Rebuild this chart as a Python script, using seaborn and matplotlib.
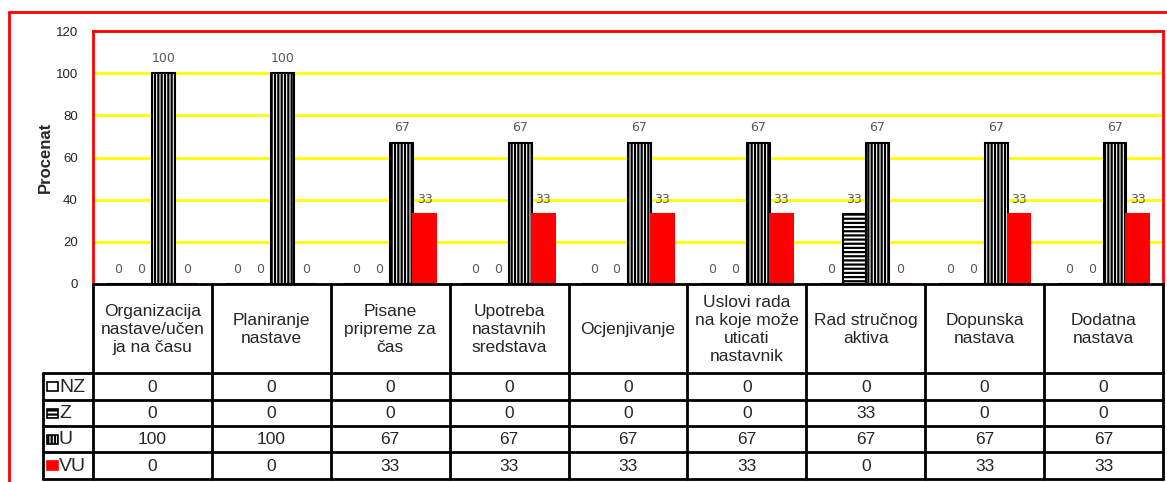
import numpy as np
import pandas as pd
import matplotlib.pyplot as plt
import seaborn as sns
from matplotlib.patches import Rectangle

# ------------------------------
# data
# ------------------------------
categories = [
    "Organizacija\nnastave/učen\nja na času",
    "Planiranje\nnastave",
    "Pisane\npripreme za\nčas",
    "Upotreba\nnastavnih\nsredstava",
    "Ocjenjivanje",
    "Uslovi rada\nna koje može\nuticati\nnastavnik",
    "Rad stručnog\naktiva",
    "Dopunska\nnastava",
    "Dodatna\nnastava",
]
series = ["NZ", "Z", "U", "VU"]
nz = [0, 0, 0, 0, 0, 0, 0, 0, 0]
z = [0, 0, 0, 0, 0, 0, 33, 0, 0]
u = [100, 100, 67, 67, 67, 67, 67, 67, 67]
vu = [0, 0, 33, 33, 33, 33, 0, 33, 33]
y_ticks = [0, 20, 40, 60, 80, 100, 120]

values = {"NZ": nz, "Z": z, "U": u, "VU": vu}
df = pd.DataFrame({
    "kategorija": categories * 4,
    "serija": np.repeat(series, len(categories)),
    "vrijednost": nz + z + u + vu,
})

sns.set_style("white")
plt.rcParams["font.family"] = ["Liberation Sans", "DejaVu Sans"]
plt.rcParams["hatch.linewidth"] = 1.6

W, H = 1167, 482
fig = plt.figure(figsize=(W / 100, H / 100), dpi=100)

# plot area in pixel coords
px_left, px_right, px_top, px_bottom = 93, 1163, 31, 284
ax = fig.add_axes([px_left / W, 1 - px_bottom / H,
                   (px_right - px_left) / W, (px_bottom - px_top) / H])

fills = {"NZ": "white", "Z": "white", "U": "white", "VU": "#FF0000"}
hatches = {"NZ": "", "Z": "----", "U": "|||||", "VU": ""}
edges = {"NZ": "black", "Z": "black", "U": "black", "VU": "#FF0000"}

sns.barplot(data=df, x="kategorija", y="vrijednost", hue="serija",
            hue_order=series, order=categories, palette=fills,
            width=0.77, saturation=1, legend=False, ax=ax)

for cont, s in zip(ax.containers, series):
    for bar in cont:
        bar.set_hatch(hatches[s])
        bar.set_edgecolor(edges[s])
        bar.set_linewidth(1.5)
    ax.bar_label(cont, labels=[str(v) for v in values[s]], padding=6,
                 fontsize=9, color="#595959", family="DejaVu Sans")

ax.set_ylim(0, 120)
ax.set_xlim(-0.5, len(categories) - 0.5)
ax.set_yticks(y_ticks)
ax.set_yticklabels([str(t) for t in y_ticks], fontsize=9.5)
ax.tick_params(axis="y", length=0, pad=11)
ax.set_xticks([])
ax.set_xlabel("")
ax.set_ylabel("Procenat", fontsize=12, fontweight="bold", labelpad=2)
ax.yaxis.grid(True, color="#FFFF00", linewidth=2)
ax.set_axisbelow(True)
for side in ["top", "left", "right"]:
    ax.spines[side].set_color("#FF0000")
    ax.spines[side].set_linewidth(2)
ax.spines["bottom"].set_color("black")
ax.spines["bottom"].set_linewidth(2)

# ------------------------------
# data table + outer border (pixel overlay)
# ------------------------------
tab = fig.add_axes([0, 0, 1, 1], zorder=5)
tab.set_xlim(0, W)
tab.set_ylim(H, 0)
tab.axis("off")

# outer red frame of the chart
tab.plot([9, W + 5], [12, 12], color="#FF0000", lw=2)
tab.plot([9, 9], [12, H + 5], color="#FF0000", lw=2)

col_w = (px_right - px_left) / len(categories)
x_edges = [px_left + i * col_w for i in range(len(categories) + 1)]
row_edges = [px_bottom, 373, 400, 426, 452, 479]
leg_left = 43

lw = 2
for x in x_edges:
    tab.plot([x, x], [px_bottom, row_edges[-1]], color="black", lw=lw)
tab.plot([leg_left, leg_left], [row_edges[1], row_edges[-1]], color="black", lw=lw)
for y in row_edges[1:]:
    tab.plot([leg_left, px_right], [y, y], color="black", lw=lw)

for i, cat in enumerate(categories):
    xc = (x_edges[i] + x_edges[i + 1]) / 2
    tab.text(xc, (row_edges[0] + row_edges[1]) / 2 + 1, cat, ha="center",
             va="center", fontsize=12.5, linespacing=1.25)
    for r, s in enumerate(series):
        yc = (row_edges[r + 1] + row_edges[r + 2]) / 2
        tab.text(xc, yc + 1, str(values[s][i]), ha="center", va="center",
                 fontsize=12.5)

for r, s in enumerate(series):
    yc = (row_edges[r + 1] + row_edges[r + 2]) / 2
    tab.add_patch(Rectangle((47, yc - 4.5), 11, 9, facecolor=fills[s],
                            edgecolor=edges[s], hatch=hatches[s], lw=1.2))
    tab.text(59, yc + 1, s, ha="left", va="center", fontsize=14)

fig.savefig("out.png", dpi=100)
